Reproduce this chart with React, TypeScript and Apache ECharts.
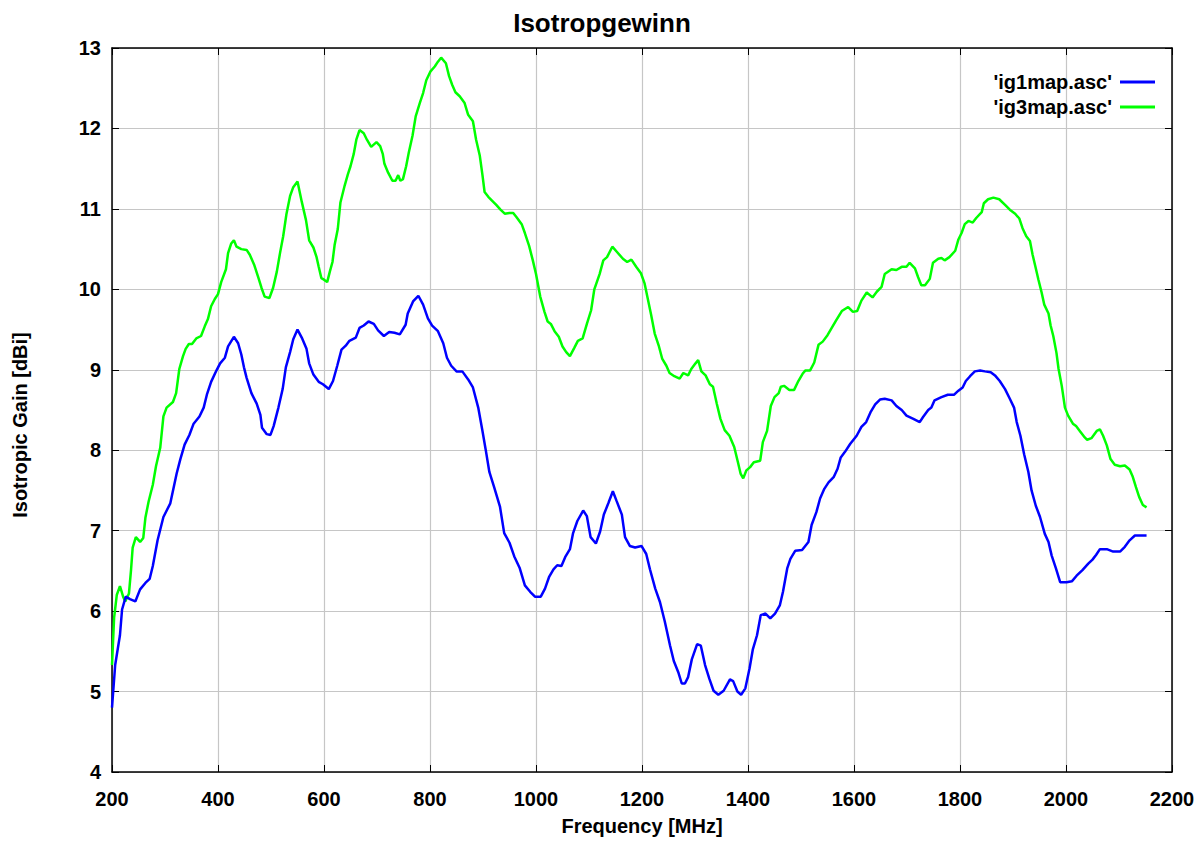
import React, { useEffect, useRef } from "react";
import * as echarts from "echarts";

const title = "Isotropgewinn";
const xName = "Frequency [MHz]";
const yName = "Isotropic Gain [dBi]";
const seriesNames = ["'ig1map.asc'", "'ig3map.asc'"];

const ig1Freq = [200,206,215,219,226,234,244,253,263,271,277,286,297,310,322,329,337,346,354,365,373,379,387,397,404,413,419,430,438,444,449,454,463,473,480,483,492,499,505,514,522,528,536,542,550,558,567,572,580,590,598,609,617,625,633,641,648,660,667,675,684,694,702,713,723,733,743,754,758,768,778,787,796,804,815,825,832,840,850,861,872,881,891,899,905,912,921,932,940,950,959,969,979,989,998,1009,1017,1025,1033,1040,1048,1055,1064,1070,1078,1089,1096,1103,1113,1121,1128,1137,1145,1152,1162,1168,1177,1187,1199,1208,1215,1225,1234,1243,1253,1260,1269,1275,1281,1287,1294,1304,1311,1319,1327,1335,1344,1354,1366,1372,1380,1387,1395,1403,1409,1417,1424,1433,1442,1451,1460,1466,1474,1480,1489,1502,1514,1520,1529,1536,1544,1552,1562,1569,1575,1583,1593,1605,1614,1623,1631,1640,1649,1658,1671,1680,1690,1699,1712,1724,1730,1740,1746,1752,1765,1777,1789,1797,1805,1811,1819,1828,1838,1847,1858,1866,1875,1885,1894,1902,1907,1914,1921,1929,1935,1943,1951,1960,1967,1973,1981,1989,2001,2011,2020,2031,2042,2050,2057,2064,2077,2089,2102,2111,2120,2130,2143,2152];
const ig1Gain = [4.80,5.33,5.70,6.02,6.18,6.15,6.12,6.27,6.35,6.40,6.56,6.88,7.17,7.34,7.71,7.89,8.07,8.19,8.33,8.42,8.53,8.69,8.85,8.99,9.08,9.15,9.29,9.41,9.33,9.19,9.03,8.90,8.71,8.58,8.44,8.28,8.20,8.19,8.30,8.53,8.76,9.03,9.22,9.38,9.50,9.40,9.26,9.08,8.94,8.85,8.82,8.76,8.86,9.05,9.25,9.30,9.36,9.40,9.52,9.55,9.60,9.57,9.49,9.42,9.47,9.46,9.44,9.56,9.70,9.85,9.92,9.81,9.64,9.55,9.48,9.33,9.15,9.05,8.98,8.98,8.88,8.78,8.53,8.24,8.01,7.73,7.54,7.30,6.97,6.85,6.68,6.54,6.32,6.24,6.18,6.18,6.28,6.43,6.52,6.57,6.56,6.67,6.77,6.97,7.12,7.25,7.18,6.92,6.84,6.99,7.20,7.35,7.49,7.37,7.20,6.92,6.81,6.79,6.81,6.71,6.52,6.28,6.11,5.87,5.57,5.38,5.23,5.10,5.10,5.18,5.40,5.59,5.57,5.33,5.16,5.01,4.96,5.01,5.15,5.13,5.00,4.96,5.04,5.29,5.52,5.70,5.95,5.97,5.91,5.97,6.07,6.24,6.53,6.65,6.75,6.76,6.86,7.07,7.23,7.40,7.52,7.60,7.67,7.77,7.91,7.98,8.08,8.18,8.29,8.35,8.47,8.57,8.63,8.64,8.62,8.55,8.50,8.43,8.39,8.35,8.41,8.50,8.53,8.62,8.66,8.69,8.69,8.74,8.78,8.86,8.92,8.98,8.99,8.98,8.97,8.93,8.86,8.76,8.64,8.53,8.35,8.18,7.95,7.73,7.50,7.31,7.17,6.96,6.86,6.69,6.53,6.36,6.36,6.37,6.44,6.51,6.59,6.64,6.70,6.77,6.77,6.74,6.74,6.80,6.88,6.94,6.94,6.94];

const ig3Freq = [200,204,209,215,221,225,232,236,239,245,253,259,263,269,277,283,291,297,303,315,321,327,334,339,345,351,359,368,375,381,387,394,400,406,415,419,425,430,435,444,454,460,468,476,482,488,497,504,511,517,523,529,536,542,550,558,566,572,580,586,590,595,600,606,611,616,620,626,631,639,645,650,656,661,667,675,681,689,699,706,711,714,721,729,735,740,744,749,755,760,767,773,781,787,793,801,809,815,821,830,836,842,848,856,865,872,881,887,894,899,903,910,916,925,933,941,950,957,963,973,979,987,994,1000,1008,1016,1022,1028,1035,1043,1050,1057,1064,1072,1079,1088,1096,1104,1110,1120,1127,1134,1144,1152,1164,1172,1180,1189,1198,1205,1211,1217,1224,1232,1238,1246,1252,1261,1271,1278,1287,1293,1301,1306,1312,1320,1328,1334,1341,1348,1356,1365,1374,1381,1386,1391,1397,1404,1411,1417,1423,1428,1436,1443,1450,1458,1462,1468,1478,1487,1495,1503,1508,1517,1525,1533,1541,1550,1558,1566,1577,1589,1598,1606,1614,1624,1635,1643,1652,1658,1671,1680,1690,1699,1705,1715,1721,1727,1734,1743,1749,1759,1765,1771,1780,1791,1797,1803,1809,1816,1824,1831,1841,1845,1853,1863,1874,1885,1894,1904,1912,1918,1925,1932,1937,1942,1948,1954,1959,1967,1971,1976,1982,1986,1992,1998,2004,2013,2019,2026,2034,2040,2048,2058,2064,2070,2077,2084,2092,2102,2111,2120,2126,2132,2138,2145,2152];
const ig3Gain = [5.33,5.92,6.20,6.31,6.18,6.12,6.22,6.52,6.79,6.92,6.86,6.91,7.16,7.36,7.57,7.80,8.03,8.42,8.53,8.60,8.71,9.01,9.17,9.26,9.32,9.32,9.39,9.42,9.54,9.63,9.79,9.88,9.94,10.09,10.25,10.45,10.57,10.61,10.53,10.50,10.49,10.43,10.31,10.15,10.02,9.91,9.89,10.02,10.22,10.45,10.66,10.93,11.16,11.27,11.34,11.09,10.86,10.61,10.52,10.40,10.28,10.14,10.12,10.09,10.22,10.34,10.55,10.75,11.08,11.29,11.43,11.53,11.68,11.86,11.98,11.94,11.86,11.77,11.83,11.78,11.68,11.56,11.45,11.35,11.35,11.42,11.35,11.37,11.53,11.70,11.91,12.15,12.32,12.44,12.60,12.71,12.77,12.83,12.88,12.81,12.65,12.54,12.45,12.40,12.32,12.17,12.09,11.86,11.66,11.42,11.21,11.15,11.11,11.05,10.99,10.94,10.95,10.95,10.90,10.81,10.70,10.54,10.36,10.19,9.91,9.72,9.60,9.57,9.48,9.41,9.29,9.22,9.17,9.27,9.36,9.39,9.57,9.74,10.00,10.19,10.36,10.40,10.53,10.47,10.38,10.34,10.37,10.28,10.20,10.07,9.88,9.69,9.45,9.29,9.14,9.05,8.96,8.92,8.89,8.96,8.93,9.01,9.08,9.12,8.98,8.93,8.82,8.79,8.58,8.39,8.25,8.18,8.04,7.85,7.71,7.65,7.75,7.79,7.85,7.86,7.87,8.10,8.24,8.55,8.66,8.71,8.79,8.80,8.75,8.75,8.86,8.95,8.99,8.99,9.09,9.31,9.35,9.43,9.52,9.61,9.73,9.78,9.72,9.73,9.86,9.96,9.90,9.97,10.03,10.19,10.25,10.24,10.28,10.28,10.33,10.26,10.15,10.05,10.05,10.13,10.33,10.38,10.39,10.36,10.40,10.48,10.62,10.70,10.81,10.85,10.83,10.89,10.96,11.07,11.12,11.14,11.12,11.05,10.99,10.94,10.88,10.76,10.66,10.60,10.43,10.29,10.12,9.96,9.81,9.70,9.55,9.42,9.21,9.01,8.80,8.53,8.43,8.33,8.30,8.24,8.17,8.13,8.15,8.24,8.26,8.18,8.06,7.89,7.82,7.80,7.81,7.76,7.67,7.54,7.42,7.32,7.29];

const FONT = "'Liberation Sans', Arial, sans-serif";

export default function App() {
  const ref = useRef<HTMLDivElement>(null);
  useEffect(() => {
    if (!ref.current) return;
    const chart = echarts.init(ref.current, undefined, { renderer: "svg" });
    const pair = (fs: number[], gs: number[]) => fs.map((f, i) => [f, gs[i]]);
    const tickStyle = { show: true, inside: true, length: 7, lineStyle: { color: "#000", width: 1 } };
    const axisLine = { show: true, onZero: false, lineStyle: { color: "#000", width: 1.5 } };
    const splitLine = { show: true, lineStyle: { color: "#c6c6c6", width: 1.2 } };
    const labelStyle = { fontFamily: FONT, fontWeight: "bold", fontSize: 20, color: "#000" };
    chart.setOption({
      animation: false,
      backgroundColor: "#fff",
      title: {
        text: title,
        left: "center",
        top: 5,
        textStyle: { fontFamily: FONT, fontWeight: "bold", fontSize: 26, color: "#000" },
      },
      grid: { left: 112, right: 32, top: 48, bottom: 67, containLabel: false },
      legend: {
        orient: "vertical",
        right: 49,
        top: 72,
        padding: 0,
        align: "right",
        itemGap: 5,
        itemWidth: 35,
        itemHeight: 3,
        icon: "rect",
        textStyle: { ...labelStyle, padding: [0, 3, 0, 0] },
        data: seriesNames,
      },
      graphic: [
        {
          type: "text",
          x: 20,
          y: 425,
          rotation: Math.PI / 2,
          style: {
            text: yName,
            fontFamily: FONT,
            fontWeight: "bold",
            fontSize: 20,
            fill: "#000",
            textAlign: "center",
            textVerticalAlign: "middle",
          },
        },
      ],
      xAxis: [
        {
          type: "value",
          min: 200,
          max: 2200,
          interval: 200,
          name: xName,
          nameLocation: "middle",
          nameGap: 44,
          nameTextStyle: labelStyle,
          axisLine,
          axisTick: tickStyle,
          splitLine,
          axisLabel: { ...labelStyle, margin: 17, formatter: (v: number) => String(v) },
        },
        {
          type: "value",
          position: "top",
          min: 200,
          max: 2200,
          interval: 200,
          axisLine,
          axisTick: tickStyle,
          splitLine: { show: false },
          axisLabel: { show: false },
        },
      ],
      yAxis: [
        {
          type: "value",
          min: 4,
          max: 13,
          interval: 1,
          axisLine,
          axisTick: tickStyle,
          splitLine,
          axisLabel: { ...labelStyle, margin: 11, formatter: (v: number) => String(v) },
        },
        {
          type: "value",
          position: "right",
          min: 4,
          max: 13,
          interval: 1,
          axisLine,
          axisTick: tickStyle,
          splitLine: { show: false },
          axisLabel: { show: false },
        },
      ],
      series: [
        {
          name: seriesNames[0],
          type: "line",
          data: pair(ig1Freq, ig1Gain),
          showSymbol: false,
          symbol: "none",
          lineStyle: { color: "#0000ff", width: 2.5 },
          itemStyle: { color: "#0000ff" },
          z: 3,
        },
        {
          name: seriesNames[1],
          type: "line",
          data: pair(ig3Freq, ig3Gain),
          showSymbol: false,
          symbol: "none",
          lineStyle: { color: "#00ff00", width: 2.5 },
          itemStyle: { color: "#00ff00" },
          z: 2,
        },
      ],
    });
    return () => chart.dispose();
  }, []);
  return (
    <div
      ref={ref}
      style={{ position: "fixed", left: 0, top: 0, width: 1204, height: 841, background: "#fff" }}
    />
  );
}
